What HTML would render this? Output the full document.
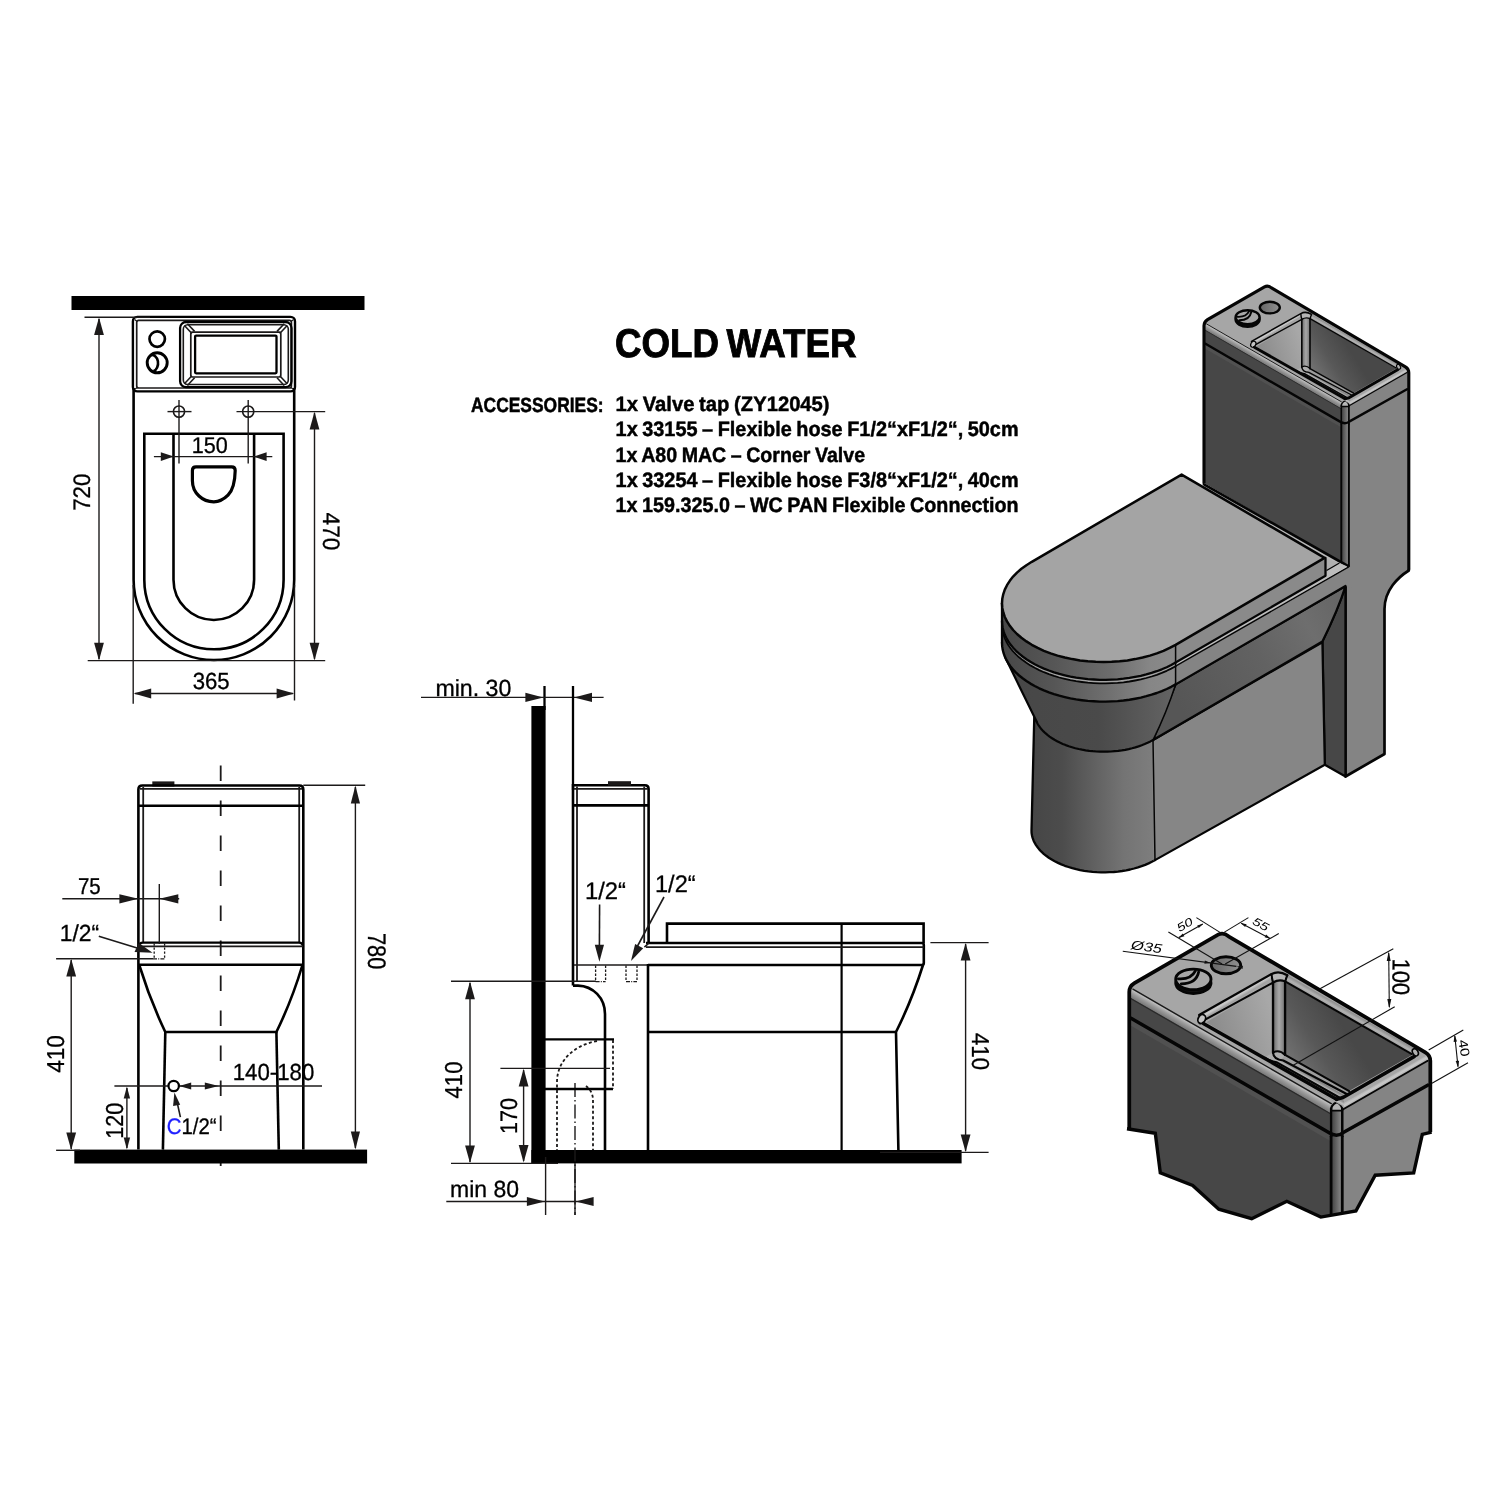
<!DOCTYPE html>
<html lang="en">
<head>
<meta charset="utf-8">
<title>COLD WATER - technical drawing</title>
<style>
html,body{margin:0;padding:0;background:#fff;}
body{width:1500px;height:1500px;overflow:hidden;font-family:"Liberation Sans",sans-serif;}
svg{display:block;will-change:transform;}
text{text-rendering:geometricPrecision;}
</style>
</head>
<body>
<svg width="1500" height="1500" viewBox="0 0 1500 1500">
<rect x="0" y="0" width="1500" height="1500" fill="#ffffff"/>
<text x="615.0" y="357.4" font-family='"Liberation Sans", sans-serif' font-size="40.20" font-weight="bold" fill="#000" text-anchor="start" textLength="241.5" lengthAdjust="spacingAndGlyphs" stroke="#000" stroke-width="0.9" word-spacing="-3">COLD WATER</text>
<text x="471.0" y="411.8" font-family='"Liberation Sans", sans-serif' font-size="20.55" font-weight="bold" fill="#000" text-anchor="start" textLength="132.6" lengthAdjust="spacingAndGlyphs" stroke="#000" stroke-width="0.5">ACCESSORIES:</text>
<text x="615.6" y="411.2" font-family='"Liberation Sans", sans-serif' font-size="20.85" font-weight="bold" fill="#000" text-anchor="start" textLength="214.0" lengthAdjust="spacingAndGlyphs" stroke="#000" stroke-width="0.45" word-spacing="-1.0">1x Valve tap (ZY12045)</text>
<text x="615.6" y="436.4" font-family='"Liberation Sans", sans-serif' font-size="20.85" font-weight="bold" fill="#000" text-anchor="start" textLength="403.0" lengthAdjust="spacingAndGlyphs" stroke="#000" stroke-width="0.45" word-spacing="-1.0">1x 33155 – Flexible hose F1/2“xF1/2“, 50cm</text>
<text x="615.6" y="461.6" font-family='"Liberation Sans", sans-serif' font-size="20.85" font-weight="bold" fill="#000" text-anchor="start" textLength="249.5" lengthAdjust="spacingAndGlyphs" stroke="#000" stroke-width="0.45" word-spacing="-1.0">1x A80 MAC – Corner Valve</text>
<text x="615.6" y="486.8" font-family='"Liberation Sans", sans-serif' font-size="20.85" font-weight="bold" fill="#000" text-anchor="start" textLength="403.0" lengthAdjust="spacingAndGlyphs" stroke="#000" stroke-width="0.45" word-spacing="-1.0">1x 33254 – Flexible hose F3/8“xF1/2“, 40cm</text>
<text x="615.6" y="512.0" font-family='"Liberation Sans", sans-serif' font-size="20.85" font-weight="bold" fill="#000" text-anchor="start" textLength="403.0" lengthAdjust="spacingAndGlyphs" stroke="#000" stroke-width="0.45" word-spacing="-1.0">1x 159.325.0 – WC PAN Flexible Connection</text>
<rect x="71.5" y="296.0" width="293.0" height="14.0" rx="0" fill="#000" stroke="none" stroke-width="0" />
<rect x="132.9" y="316.9" width="162.1" height="74.5" rx="4.5" fill="none" stroke="#000000" stroke-width="2.4" />
<rect x="136.7" y="320.4" width="154.7" height="67.6" rx="2" fill="none" stroke="#1c1a1a" stroke-width="1.7" />
<line x1="134.6" y1="319.4" x2="137.2" y2="321.4" stroke="#1c1a1a" stroke-width="1.2" />
<line x1="293.6" y1="319.4" x2="291.0" y2="321.4" stroke="#1c1a1a" stroke-width="1.2" />
<line x1="134.6" y1="389.4" x2="137.2" y2="387.4" stroke="#1c1a1a" stroke-width="1.2" />
<line x1="293.6" y1="389.4" x2="291.0" y2="387.4" stroke="#1c1a1a" stroke-width="1.2" />
<path d="M133.6,388 L133.6,579.7 A80.3,80.3 0 0 0 294.2,579.7 L294.2,388" stroke="#000000" stroke-width="2.6" fill="none" />
<path d="M144.3,433.8 L283.6,433.8 L283.6,579.7 A69.65,69.65 0 0 1 144.3,579.7 Z" stroke="#000000" stroke-width="2.6" fill="none" />
<path d="M173.5,433.8 L173.5,579.7 A40.3,40.3 0 0 0 254.1,579.7 L254.1,433.8" stroke="#000000" stroke-width="2.6" fill="none" />
<path d="M196,466.8 L231.6,466.8 Q235.2,466.8 235.2,470.4 C235,482 233,490 228,495.2 C223.6,499.6 219.6,501.8 213.8,501.8 C207.6,501.8 203,499.8 199,496 C194.6,492 192.4,486 192.4,480.8 L192.4,470.4 Q192.4,466.8 196,466.8 Z" stroke="#000000" stroke-width="3.2" fill="none" />
<circle cx="157.2" cy="339.1" r="7.7" stroke="#000000" stroke-width="2.7" fill="none"/>
<circle cx="157.2" cy="362.8" r="10.0" stroke="#000000" stroke-width="2.9" fill="none"/>
<path d="M150.6,355.2 A5.9,8 0 0 1 153.4,371.2" stroke="#000000" stroke-width="2.6" fill="none" />
<rect x="180.1" y="322.0" width="111.4" height="65.2" rx="6" fill="none" stroke="#000000" stroke-width="2.3" />
<rect x="183.3" y="324.7" width="105.0" height="59.8" rx="4.5" fill="none" stroke="#1c1a1a" stroke-width="1.6" />
<rect x="190.8" y="332.1" width="90.0" height="44.9" rx="1.5" fill="none" stroke="#1c1a1a" stroke-width="1.7" />
<rect x="195.1" y="335.6" width="81.4" height="37.7" rx="1" fill="none" stroke="#000000" stroke-width="2.3" />
<line x1="184.4" y1="325.5" x2="191.9" y2="333.5" stroke="#1c1a1a" stroke-width="1.6" />
<line x1="187.4" y1="323.7" x2="194.6" y2="331.4" stroke="#1c1a1a" stroke-width="1.6" />
<line x1="287.2" y1="325.5" x2="279.7" y2="333.5" stroke="#1c1a1a" stroke-width="1.6" />
<line x1="284.2" y1="323.7" x2="277.0" y2="331.4" stroke="#1c1a1a" stroke-width="1.6" />
<line x1="184.4" y1="383.7" x2="191.9" y2="375.7" stroke="#1c1a1a" stroke-width="1.6" />
<line x1="187.4" y1="385.5" x2="194.6" y2="377.8" stroke="#1c1a1a" stroke-width="1.6" />
<line x1="287.2" y1="383.7" x2="279.7" y2="375.7" stroke="#1c1a1a" stroke-width="1.6" />
<line x1="284.2" y1="385.5" x2="277.0" y2="377.8" stroke="#1c1a1a" stroke-width="1.6" />
<circle cx="179.0" cy="411.6" r="5.6" stroke="#1c1a1a" stroke-width="1.6" fill="none"/>
<line x1="179.0" y1="400.0" x2="179.0" y2="463.5" stroke="#1c1a1a" stroke-width="1.4" />
<circle cx="248.2" cy="411.6" r="5.6" stroke="#1c1a1a" stroke-width="1.6" fill="none"/>
<line x1="248.2" y1="400.0" x2="248.2" y2="463.5" stroke="#1c1a1a" stroke-width="1.4" />
<line x1="167.5" y1="411.6" x2="191.5" y2="411.6" stroke="#1c1a1a" stroke-width="1.4" />
<line x1="236.5" y1="411.6" x2="325.2" y2="411.6" stroke="#1c1a1a" stroke-width="1.4" />
<line x1="153.9" y1="456.6" x2="272.3" y2="456.6" stroke="#1c1a1a" stroke-width="1.4" />
<polygon points="173.8,456.6 160.8,461.0 160.8,452.2" fill="#1c1a1a" stroke="none" stroke-width="0" />
<polygon points="253.6,456.6 266.6,452.2 266.6,461.0" fill="#1c1a1a" stroke="none" stroke-width="0" />
<text x="191.8" y="453.0" font-family='"Liberation Sans", sans-serif' font-size="22.72" fill="#000" text-anchor="start" textLength="36.0" lengthAdjust="spacingAndGlyphs" stroke="#000" stroke-width="0.3">150</text>
<line x1="84.5" y1="317.3" x2="150.0" y2="317.3" stroke="#1c1a1a" stroke-width="1.4" />
<line x1="99.0" y1="319.0" x2="99.0" y2="659.0" stroke="#1c1a1a" stroke-width="1.4" />
<polygon points="99.0,317.5 103.9,335.1 94.1,335.1" fill="#1c1a1a" stroke="none" stroke-width="0" />
<polygon points="99.0,660.4 94.1,642.8 103.9,642.8" fill="#1c1a1a" stroke="none" stroke-width="0" />
<text x="0" y="0" transform="translate(89.9,510.8) rotate(-90)" font-family='"Liberation Sans", sans-serif' font-size="23.91" fill="#000" text-anchor="start" textLength="37.2" lengthAdjust="spacingAndGlyphs" stroke="#000" stroke-width="0.3">720</text>
<line x1="87.7" y1="660.6" x2="325.2" y2="660.6" stroke="#1c1a1a" stroke-width="1.4" />
<line x1="314.5" y1="413.0" x2="314.5" y2="659.0" stroke="#1c1a1a" stroke-width="1.4" />
<polygon points="314.5,411.8 319.4,429.4 309.6,429.4" fill="#1c1a1a" stroke="none" stroke-width="0" />
<polygon points="314.5,660.4 309.6,642.8 319.4,642.8" fill="#1c1a1a" stroke="none" stroke-width="0" />
<text x="0" y="0" transform="translate(322.6,512.6) rotate(90)" font-family='"Liberation Sans", sans-serif' font-size="23.91" fill="#000" text-anchor="start" textLength="37.8" lengthAdjust="spacingAndGlyphs" stroke="#000" stroke-width="0.3">470</text>
<line x1="133.2" y1="585.0" x2="133.2" y2="703.7" stroke="#1c1a1a" stroke-width="1.4" />
<line x1="294.5" y1="585.0" x2="294.5" y2="700.5" stroke="#1c1a1a" stroke-width="1.4" />
<line x1="135.0" y1="693.5" x2="293.0" y2="693.5" stroke="#1c1a1a" stroke-width="1.4" />
<polygon points="133.6,693.5 151.2,688.6 151.2,698.4" fill="#1c1a1a" stroke="none" stroke-width="0" />
<polygon points="294.2,693.5 276.6,698.4 276.6,688.6" fill="#1c1a1a" stroke="none" stroke-width="0" />
<text x="192.7" y="688.8" font-family='"Liberation Sans", sans-serif' font-size="23.31" fill="#000" text-anchor="start" textLength="37.0" lengthAdjust="spacingAndGlyphs" stroke="#000" stroke-width="0.3">365</text>
<line x1="220.7" y1="765.6" x2="220.7" y2="1169.5" stroke="#1c1a1a" stroke-width="1.8" stroke-dasharray="15.5 19.5"/>
<rect x="74.3" y="1149.6" width="292.8" height="13.9" rx="0" fill="#000" stroke="none" stroke-width="0" />
<rect x="152.3" y="781.4" width="22.1" height="5.1" rx="0" fill="#1c1a1a" stroke="none" stroke-width="0" />
<path d="M138.4,1149.6 L138.4,789.5 Q138.4,785.5 142.4,785.5 L299.3,785.5 Q303.3,785.5 303.3,789.5 L303.3,1149.6" stroke="#000000" stroke-width="2.6" fill="none" />
<line x1="143.2" y1="787.0" x2="143.2" y2="942.6" stroke="#1c1a1a" stroke-width="1.8" />
<line x1="299.2" y1="787.0" x2="299.2" y2="942.6" stroke="#1c1a1a" stroke-width="1.8" />
<line x1="140.0" y1="788.9" x2="302.0" y2="788.9" stroke="#1c1a1a" stroke-width="1.7" />
<line x1="138.4" y1="805.7" x2="303.3" y2="805.7" stroke="#000000" stroke-width="2.4" />
<path d="M138.8,946.3 Q139.2,942.6 143,942.6 L299,942.6 Q302.6,942.6 303,946.3" stroke="#000000" stroke-width="2.4" fill="none" />
<line x1="139.0" y1="946.4" x2="303.0" y2="946.4" stroke="#1c1a1a" stroke-width="1.8" />
<line x1="138.4" y1="964.8" x2="303.3" y2="964.8" stroke="#000000" stroke-width="2.6" />
<path d="M139.4,965.5 Q150,1000 165.3,1032 L276.4,1032 Q292,1000 302.3,965.5" stroke="#000000" stroke-width="2.6" fill="none" />
<path d="M165.3,1032 L162.9,1149.6" stroke="#000000" stroke-width="2.6" fill="none" />
<path d="M276.4,1032 L278.8,1149.6" stroke="#000000" stroke-width="2.6" fill="none" />
<line x1="114.4" y1="1086.0" x2="322.0" y2="1086.0" stroke="#1c1a1a" stroke-width="1.4" />
<circle cx="173.7" cy="1086.0" r="5.2" stroke="#000000" stroke-width="2.2" fill="#fff"/>
<polygon points="179.2,1086.0 191.2,1082.6 191.2,1089.4" fill="#1c1a1a" stroke="none" stroke-width="0" />
<polygon points="218.8,1086.0 204.8,1089.6 204.8,1082.4" fill="#1c1a1a" stroke="none" stroke-width="0" />
<line x1="180.4" y1="1117.2" x2="176.6" y2="1100.0" stroke="#1c1a1a" stroke-width="1.6" />
<polygon points="174.4,1092.6 180.2,1104.8 173.1,1106.0" fill="#1c1a1a" stroke="none" stroke-width="0" />
<text x="166.7" y="1133.6" font-family='"Liberation Sans", sans-serif' font-size="22.42" fill="#000" text-anchor="start" textLength="49.8" lengthAdjust="spacingAndGlyphs" stroke="#000" stroke-width="0.3"><tspan fill="#1f1fff" stroke="#1f1fff">C</tspan>1/2“</text>
<text x="232.7" y="1080.2" font-family='"Liberation Sans", sans-serif' font-size="23.31" fill="#000" text-anchor="start" textLength="81.6" lengthAdjust="spacingAndGlyphs" stroke="#000" stroke-width="0.3">140-180</text>
<line x1="126.9" y1="1088.0" x2="126.9" y2="1148.0" stroke="#1c1a1a" stroke-width="1.4" />
<polygon points="126.9,1086.4 130.1,1098.4 123.7,1098.4" fill="#1c1a1a" stroke="none" stroke-width="0" />
<polygon points="126.9,1149.6 123.7,1137.6 130.1,1137.6" fill="#1c1a1a" stroke="none" stroke-width="0" />
<text x="0" y="0" transform="translate(122.8,1138.8) rotate(-90)" font-family='"Liberation Sans", sans-serif' font-size="24.51" fill="#000" text-anchor="start" textLength="36.0" lengthAdjust="spacingAndGlyphs" stroke="#000" stroke-width="0.3">120</text>
<line x1="56.1" y1="958.8" x2="153.0" y2="958.8" stroke="#1c1a1a" stroke-width="1.4" />
<line x1="56.1" y1="1150.3" x2="80.0" y2="1150.3" stroke="#1c1a1a" stroke-width="1.4" />
<line x1="71.2" y1="960.0" x2="71.2" y2="1149.0" stroke="#1c1a1a" stroke-width="1.4" />
<polygon points="71.2,959.0 76.1,976.6 66.3,976.6" fill="#1c1a1a" stroke="none" stroke-width="0" />
<polygon points="71.2,1150.0 66.3,1132.4 76.1,1132.4" fill="#1c1a1a" stroke="none" stroke-width="0" />
<text x="0" y="0" transform="translate(64.0,1072.8) rotate(-90)" font-family='"Liberation Sans", sans-serif' font-size="24.51" fill="#000" text-anchor="start" textLength="37.7" lengthAdjust="spacingAndGlyphs" stroke="#000" stroke-width="0.3">410</text>
<line x1="62.3" y1="898.8" x2="179.2" y2="898.8" stroke="#1c1a1a" stroke-width="1.4" />
<polygon points="138.4,898.8 119.4,903.4 119.4,894.2" fill="#1c1a1a" stroke="none" stroke-width="0" />
<polygon points="159.3,898.8 178.3,894.2 178.3,903.4" fill="#1c1a1a" stroke="none" stroke-width="0" />
<line x1="159.3" y1="883.9" x2="159.3" y2="944.0" stroke="#1c1a1a" stroke-width="1.4" />
<text x="77.9" y="894.0" font-family='"Liberation Sans", sans-serif' font-size="23.01" fill="#000" text-anchor="start" textLength="22.8" lengthAdjust="spacingAndGlyphs" stroke="#000" stroke-width="0.3">75</text>
<text x="59.7" y="941.4" font-family='"Liberation Sans", sans-serif' font-size="23.31" fill="#000" text-anchor="start" textLength="39.4" lengthAdjust="spacingAndGlyphs" stroke="#000" stroke-width="0.3">1/2“</text>
<line x1="98.8" y1="936.2" x2="142.0" y2="949.5" stroke="#1c1a1a" stroke-width="1.6" />
<polygon points="152.6,952.8 134.5,952.0 138.8,943.0" fill="#1c1a1a" stroke="none" stroke-width="0" />
<path d="M154.2,943.4 L154.2,958.8 M164.6,943.4 L164.6,958.8" stroke="#1c1a1a" stroke-width="1.3" fill="none" stroke-dasharray="2.4 1.6"/>
<path d="M153,958.8 L165,958.8" stroke="#1c1a1a" stroke-width="1.3" fill="none" stroke-dasharray="4 1.2 1 1.2"/>
<line x1="303.3" y1="785.3" x2="365.2" y2="785.3" stroke="#1c1a1a" stroke-width="1.4" />
<line x1="355.4" y1="787.0" x2="355.4" y2="1148.0" stroke="#1c1a1a" stroke-width="1.4" />
<polygon points="355.4,785.5 360.0,803.5 350.8,803.5" fill="#1c1a1a" stroke="none" stroke-width="0" />
<polygon points="355.4,1149.6 350.8,1131.6 360.0,1131.6" fill="#1c1a1a" stroke="none" stroke-width="0" />
<text x="0" y="0" transform="translate(368.3,932.9) rotate(90)" font-family='"Liberation Sans", sans-serif' font-size="25.41" fill="#000" text-anchor="start" textLength="36.4" lengthAdjust="spacingAndGlyphs" stroke="#000" stroke-width="0.3">780</text>
<rect x="531.4" y="706.0" width="14.2" height="457.4" rx="0" fill="#000" stroke="none" stroke-width="0" />
<rect x="531.4" y="1150.0" width="430.2" height="13.4" rx="0" fill="#000" stroke="none" stroke-width="0" />
<line x1="544.5" y1="686.0" x2="544.5" y2="710.0" stroke="#000000" stroke-width="2.3" />
<line x1="545.6" y1="1157.0" x2="545.6" y2="1215.0" stroke="#1c1a1a" stroke-width="1.4" />
<line x1="575.0" y1="1083.0" x2="575.0" y2="1215.0" stroke="#1c1a1a" stroke-width="1.4" stroke-dasharray="14 3 1.5 3"/>
<line x1="575.0" y1="1163.0" x2="575.0" y2="1215.0" stroke="#1c1a1a" stroke-width="1.4" />
<line x1="421.0" y1="697.4" x2="603.6" y2="697.4" stroke="#1c1a1a" stroke-width="1.4" />
<polygon points="543.4,697.4 525.4,702.0 525.4,692.8" fill="#1c1a1a" stroke="none" stroke-width="0" />
<polygon points="574.0,697.4 592.0,692.8 592.0,702.0" fill="#1c1a1a" stroke="none" stroke-width="0" />
<line x1="573.0" y1="686.0" x2="573.0" y2="790.0" stroke="#000000" stroke-width="2.3" />
<text x="435.4" y="695.6" font-family='"Liberation Sans", sans-serif' font-size="23.31" fill="#000" text-anchor="start" textLength="76.0" lengthAdjust="spacingAndGlyphs" stroke="#000" stroke-width="0.3">min. 30</text>
<path d="M573,985.6 L573,785.2 L644.8,785.2 Q648.6,785.2 648.6,789 L648.6,943" stroke="#000000" stroke-width="2.6" fill="none" />
<line x1="577.0" y1="786.5" x2="577.0" y2="981.6" stroke="#1c1a1a" stroke-width="1.8" />
<line x1="644.2" y1="786.5" x2="644.2" y2="943.0" stroke="#1c1a1a" stroke-width="1.8" />
<line x1="574.0" y1="788.8" x2="648.0" y2="788.8" stroke="#1c1a1a" stroke-width="1.7" />
<line x1="573.0" y1="805.4" x2="648.6" y2="805.4" stroke="#000000" stroke-width="2.6" />
<rect x="608.0" y="781.2" width="23.0" height="4.4" rx="0" fill="#1c1a1a" stroke="none" stroke-width="0" />
<path d="M573,985.6 L578,985.6 C593,986 605,998 605,1014 L605,1150" stroke="#000000" stroke-width="2.6" fill="none" />
<line x1="574.0" y1="965.0" x2="648.0" y2="965.0" stroke="#1c1a1a" stroke-width="1.4" />
<line x1="648.0" y1="964.0" x2="648.0" y2="1150.0" stroke="#000000" stroke-width="2.6" />
<line x1="648.0" y1="965.0" x2="923.0" y2="965.0" stroke="#000000" stroke-width="2.6" />
<line x1="648.0" y1="1032.0" x2="896.0" y2="1032.0" stroke="#000000" stroke-width="2.6" />
<line x1="841.6" y1="923.6" x2="841.6" y2="1150.0" stroke="#000000" stroke-width="2.2" />
<path d="M923,965 Q912,1000 896,1032 L898.4,1150" stroke="#000000" stroke-width="2.6" fill="none" />
<path d="M646,943 L922,943 Q923.8,943 923.8,945 L923.8,963 Q923.8,965 922,965" stroke="#000000" stroke-width="2.6" fill="none" />
<line x1="646.0" y1="947.2" x2="923.6" y2="947.2" stroke="#1c1a1a" stroke-width="1.7" />
<line x1="649.0" y1="943.0" x2="644.4" y2="947.2" stroke="#1c1a1a" stroke-width="1.6" />
<path d="M667,943 L667,923.6 L923.6,923.6 L923.6,943" stroke="#000000" stroke-width="2.6" fill="none" />
<line x1="545.0" y1="1039.4" x2="614.0" y2="1039.4" stroke="#000000" stroke-width="2.4" />
<line x1="545.0" y1="1089.0" x2="613.0" y2="1089.0" stroke="#000000" stroke-width="2.4" />
<line x1="613.0" y1="1040.0" x2="613.0" y2="1089.0" stroke="#1c1a1a" stroke-width="1.8" stroke-dasharray="3 2.4"/>
<path d="M597,1041 C575,1045 557,1060 557,1082 L557,1150" stroke="#1c1a1a" stroke-width="1.8" fill="none" stroke-dasharray="3 2.4"/>
<path d="M586,1086 C590,1089 593,1094 593,1100 L593,1150" stroke="#1c1a1a" stroke-width="1.8" fill="none" stroke-dasharray="3 2.4"/>
<path d="M595.6,965.6 L595.6,981.6 M605.6,965.6 L605.6,981.6" stroke="#1c1a1a" stroke-width="1.3" fill="none" stroke-dasharray="2.4 1.6"/>
<path d="M595.6,981.6 L605.6,981.6" stroke="#1c1a1a" stroke-width="1.3" fill="none" stroke-dasharray="4 1.2 1 1.2"/>
<path d="M626.0,965.6 L626.0,981.6 M637.0,965.6 L637.0,981.6" stroke="#1c1a1a" stroke-width="1.3" fill="none" stroke-dasharray="2.4 1.6"/>
<path d="M626.0,981.6 L637.0,981.6" stroke="#1c1a1a" stroke-width="1.3" fill="none" stroke-dasharray="4 1.2 1 1.2"/>
<text x="585.0" y="899.0" font-family='"Liberation Sans", sans-serif' font-size="23.91" fill="#000" text-anchor="start" textLength="41.0" lengthAdjust="spacingAndGlyphs" stroke="#000" stroke-width="0.3">1/2“</text>
<line x1="599.6" y1="904.4" x2="599.4" y2="946.0" stroke="#1c1a1a" stroke-width="1.6" />
<polygon points="599.4,961.8 594.8,944.8 604.0,944.8" fill="#1c1a1a" stroke="none" stroke-width="0" />
<text x="655.0" y="892.0" font-family='"Liberation Sans", sans-serif' font-size="23.91" fill="#000" text-anchor="start" textLength="40.6" lengthAdjust="spacingAndGlyphs" stroke="#000" stroke-width="0.3">1/2“</text>
<line x1="664.0" y1="897.0" x2="637.0" y2="947.0" stroke="#1c1a1a" stroke-width="1.6" />
<polygon points="631.0,961.0 635.1,943.9 643.2,948.3" fill="#1c1a1a" stroke="none" stroke-width="0" />
<line x1="451.0" y1="981.2" x2="596.0" y2="981.2" stroke="#1c1a1a" stroke-width="1.4" />
<line x1="451.0" y1="1163.4" x2="558.0" y2="1163.4" stroke="#1c1a1a" stroke-width="1.4" />
<line x1="470.0" y1="983.0" x2="470.0" y2="1162.0" stroke="#1c1a1a" stroke-width="1.4" />
<polygon points="470.0,981.6 474.9,999.2 465.1,999.2" fill="#1c1a1a" stroke="none" stroke-width="0" />
<polygon points="470.0,1163.0 465.1,1145.4 474.9,1145.4" fill="#1c1a1a" stroke="none" stroke-width="0" />
<text x="0" y="0" transform="translate(462.4,1098.4) rotate(-90)" font-family='"Liberation Sans", sans-serif' font-size="24.51" fill="#000" text-anchor="start" textLength="36.8" lengthAdjust="spacingAndGlyphs" stroke="#000" stroke-width="0.3">410</text>
<line x1="500.4" y1="1068.4" x2="610.0" y2="1068.4" stroke="#1c1a1a" stroke-width="1.4" />
<line x1="523.6" y1="1070.0" x2="523.6" y2="1161.0" stroke="#1c1a1a" stroke-width="1.4" />
<polygon points="523.6,1068.8 528.5,1086.4 518.7,1086.4" fill="#1c1a1a" stroke="none" stroke-width="0" />
<polygon points="523.6,1162.6 518.7,1145.0 528.5,1145.0" fill="#1c1a1a" stroke="none" stroke-width="0" />
<text x="0" y="0" transform="translate(517.0,1134.0) rotate(-90)" font-family='"Liberation Sans", sans-serif' font-size="23.91" fill="#000" text-anchor="start" textLength="36.0" lengthAdjust="spacingAndGlyphs" stroke="#000" stroke-width="0.3">170</text>
<line x1="446.3" y1="1201.5" x2="593.0" y2="1201.5" stroke="#1c1a1a" stroke-width="1.4" />
<polygon points="544.9,1201.5 526.9,1206.1 526.9,1196.9" fill="#1c1a1a" stroke="none" stroke-width="0" />
<polygon points="575.6,1201.5 593.6,1196.9 593.6,1206.1" fill="#1c1a1a" stroke="none" stroke-width="0" />
<text x="450.0" y="1197.4" font-family='"Liberation Sans", sans-serif' font-size="23.31" fill="#000" text-anchor="start" textLength="69.0" lengthAdjust="spacingAndGlyphs" stroke="#000" stroke-width="0.3">min 80</text>
<line x1="930.4" y1="942.6" x2="988.6" y2="942.6" stroke="#1c1a1a" stroke-width="1.4" />
<line x1="880.0" y1="1152.4" x2="988.6" y2="1152.4" stroke="#1c1a1a" stroke-width="1.4" />
<line x1="965.6" y1="944.0" x2="965.6" y2="1151.0" stroke="#1c1a1a" stroke-width="1.4" />
<polygon points="965.6,943.0 970.5,960.6 960.7,960.6" fill="#1c1a1a" stroke="none" stroke-width="0" />
<polygon points="965.6,1152.0 960.7,1134.4 970.5,1134.4" fill="#1c1a1a" stroke="none" stroke-width="0" />
<text x="0" y="0" transform="translate(972.0,1033.0) rotate(90)" font-family='"Liberation Sans", sans-serif' font-size="24.51" fill="#000" text-anchor="start" textLength="37.0" lengthAdjust="spacingAndGlyphs" stroke="#000" stroke-width="0.3">410</text>
<defs>
<linearGradient id="gCyl" x1="0" y1="0" x2="1" y2="0"><stop offset="0" stop-color="#464646"/><stop offset="0.25" stop-color="#4c4c4c"/><stop offset="0.75" stop-color="#747474"/><stop offset="1" stop-color="#7e7e7e"/></linearGradient>
<linearGradient id="gTaper" x1="0" y1="0" x2="1" y2="0"><stop offset="0" stop-color="#474747"/><stop offset="0.55" stop-color="#4a4a4a"/><stop offset="1" stop-color="#646464"/></linearGradient>
<linearGradient id="gRim" x1="0" y1="0" x2="1" y2="0"><stop offset="0" stop-color="#484848"/><stop offset="0.3" stop-color="#565656"/><stop offset="0.62" stop-color="#707070"/><stop offset="0.85" stop-color="#868686"/><stop offset="1" stop-color="#8a8a8a"/></linearGradient>
<linearGradient id="gLidE" x1="0" y1="0" x2="1" y2="0"><stop offset="0" stop-color="#484848"/><stop offset="0.3" stop-color="#565656"/><stop offset="0.62" stop-color="#6c6c6c"/><stop offset="0.85" stop-color="#868686"/><stop offset="1" stop-color="#8a8a8a"/></linearGradient>
<linearGradient id="gSide" gradientUnits="userSpaceOnUse" x1="1176" y1="700" x2="1340" y2="606"><stop offset="0" stop-color="#565656"/><stop offset="0.5" stop-color="#626262"/><stop offset="0.8" stop-color="#6e6e6e"/><stop offset="1" stop-color="#666666"/></linearGradient>
<linearGradient id="gCorner" x1="0" y1="0" x2="1" y2="0"><stop offset="0" stop-color="#484848"/><stop offset="0.25" stop-color="#505050"/><stop offset="0.8" stop-color="#808080"/><stop offset="1" stop-color="#848484"/></linearGradient>
<linearGradient id="gBasL" gradientUnits="userSpaceOnUse" x1="1262" y1="352" x2="1301" y2="338"><stop offset="0" stop-color="#8c8c8c"/><stop offset="1" stop-color="#a8a8a8"/></linearGradient>
<linearGradient id="gBasR" gradientUnits="userSpaceOnUse" x1="1312" y1="374" x2="1350" y2="350"><stop offset="0" stop-color="#747474"/><stop offset="0.5" stop-color="#585858"/><stop offset="1" stop-color="#484848"/></linearGradient>
<linearGradient id="gFil" x1="0" y1="0" x2="1" y2="0"><stop offset="0" stop-color="#6a6a6a"/><stop offset="0.5" stop-color="#a8a8a8"/><stop offset="1" stop-color="#747474"/></linearGradient>
<linearGradient id="gHole" x1="0" y1="0" x2="1" y2="0"><stop offset="0" stop-color="#666666"/><stop offset="1" stop-color="#909090"/></linearGradient>
</defs>
<defs>
<linearGradient id="gFrontFil" gradientUnits="userSpaceOnUse" x1="0" y1="0" x2="0" y2="7"><stop offset="0" stop-color="#c6c6c6"/><stop offset="0.45" stop-color="#9a9a9a"/><stop offset="0.9" stop-color="#7a7a7a"/><stop offset="1" stop-color="#555555"/></linearGradient>
<linearGradient id="gRightFil" gradientUnits="userSpaceOnUse" x1="0" y1="0" x2="0" y2="3.6"><stop offset="0" stop-color="#b4b4b4"/><stop offset="0.5" stop-color="#cacaca"/><stop offset="1" stop-color="#a8a8a8"/></linearGradient>
<linearGradient id="gBackRim" gradientUnits="userSpaceOnUse" x1="0" y1="0" x2="0" y2="6"><stop offset="0" stop-color="#8c8c8c"/><stop offset="0.45" stop-color="#b2b2b2"/><stop offset="1" stop-color="#929292"/></linearGradient>
<linearGradient id="gLeftRim" gradientUnits="userSpaceOnUse" x1="0" y1="0" x2="0" y2="5"><stop offset="0" stop-color="#a8a8a8"/><stop offset="0.5" stop-color="#cccccc"/><stop offset="1" stop-color="#9c9c9c"/></linearGradient>
<linearGradient id="gFloorFil" gradientUnits="userSpaceOnUse" x1="0" y1="0" x2="0" y2="8"><stop offset="0" stop-color="#7a7a7a"/><stop offset="0.3" stop-color="#b4b4b4"/><stop offset="0.55" stop-color="#8a8a8a"/><stop offset="0.8" stop-color="#c0c0c0"/><stop offset="1" stop-color="#9a9a9a"/></linearGradient>
</defs>
<defs><g id="tank" stroke-linecap="round" stroke-linejoin="round">
<polygon points="1347.0,404.0 1408.8,369.0 1408.8,569.0 1347.0,569.0" fill="#848484" stroke="none" stroke-width="0" />
<polygon points="1204.0,323.0 1342.0,403.0 1342.0,562.6 1204.0,483.0" fill="#474747" stroke="none" stroke-width="0" />
<g transform="translate(1204,322.6) skewY(30)"><rect x="0" y="0" width="138" height="7" fill="url(#gFrontFil)"/><rect x="0" y="21" width="138" height="4.5" fill="#515151"/></g>
<rect x="1341" y="403" width="8.2" height="164" fill="url(#gCorner)"/>
<line x1="1348.9" y1="424.0" x2="1348.9" y2="566.5" stroke="#050505" stroke-width="1.9" />
<line x1="1341.3" y1="424.0" x2="1341.3" y2="562.5" stroke="#050505" stroke-width="1.9" />
<polygon points="1204.0,322.5 1268.0,286.0 1408.8,368.8 1345.4,404.2" fill="#a6a6a6" stroke="none" stroke-width="0" />
<g transform="translate(1348.6,402.2) skewY(-30)"><rect x="0" y="0" width="60" height="3.6" fill="url(#gRightFil)"/></g>
<line x1="1349.6" y1="405.6" x2="1407.0" y2="372.6" stroke="#050505" stroke-width="1.2" />
<line x1="1206.5" y1="323.9" x2="1341.4" y2="401.8" stroke="#1a1a1a" stroke-width="1.0" />
<line x1="1205.0" y1="330.2" x2="1341.2" y2="408.8" stroke="#2a2a2a" stroke-width="0.9" />
<path d="M1205.5,343.8 L1340,421.6 Q1345.2,425 1349.6,421.4 L1407,389.2" stroke="#050505" stroke-width="2.4" fill="none" />
<path d="M1341.3,406.5 Q1341.2,402.4 1345.2,400.8 Q1349,402.4 1348.9,406.5 Z" stroke="#050505" stroke-width="1.3" fill="#b6b6b6" />
<line x1="1341.3" y1="405.0" x2="1341.3" y2="424.0" stroke="#050505" stroke-width="1.6" />
<line x1="1348.9" y1="405.0" x2="1348.9" y2="424.0" stroke="#050505" stroke-width="1.7" />
<g transform="translate(1310,313.4) skewY(30)"><rect x="0" y="0" width="89" height="5.4" fill="url(#gBackRim)"/></g>
<g transform="translate(1251.5,341.2) skewY(-30.6)"><rect x="0" y="0" width="50" height="5" fill="url(#gLeftRim)"/></g>
<path d="M1300.8,313.6 Q1305.6,310.6 1311.5,314.4 L1310,318.8 Q1305.8,316.4 1301.6,319.2 Z" fill="#b4b4b4"/>
<polygon points="1256.4,346.4 1301.8,319.6 1301.8,367.2 1296.0,370.6" fill="url(#gBasL)" stroke="none" stroke-width="0" />
<polygon points="1310.0,319.0 1396.4,368.6 1353.5,393.2 1310.0,368.8" fill="url(#gBasR)" stroke="none" stroke-width="0" />
<rect x="1301.8" y="318" width="8.2" height="50" fill="url(#gFil)"/>
<polygon points="1296.0,370.6 1301.8,367.2 1310.0,368.8 1353.5,393.2 1346.0,398.0" fill="#9c9c9c" stroke="none" stroke-width="0" />
<g transform="translate(1298,366) skewY(30)"><rect x="0" y="0" width="52" height="8" fill="url(#gFloorFil)"/></g>
<polygon points="1296.0,370.6 1301.8,367.2 1301.8,361.0 1294.0,365.0" fill="url(#gBasL)" stroke="none" stroke-width="0" />
<path d="M1296,370.4 L1301.8,367 Q1306,364.8 1310,368.6 Q1307,372.6 1303,373.6 Z" fill="#adadad"/>
<path d="M1251.5,341.4 L1300.8,313.6 Q1305.6,310.8 1311.5,314.4" stroke="#050505" stroke-width="1.5" fill="none" />
<path d="M1255.6,344.6 L1301.8,319.4 Q1305.8,316.8 1310,318.6 L1396.2,368" stroke="#050505" stroke-width="1.4" fill="none" />
<path d="M1301.8,319.4 L1301.8,367 M1310,319 L1310,368.6" stroke="#050505" stroke-width="1.6" fill="none" />
<path d="M1300.8,313.6 Q1301,316.6 1301.8,319.4 M1311.5,314.4 Q1310.6,316.6 1310,319" stroke="#050505" stroke-width="1.4" fill="none" />
<path d="M1301.8,367 Q1306,364.6 1310,368.6" stroke="#050505" stroke-width="1.4" fill="none" />
<path d="M1301.8,367 Q1302,371.8 1308.8,372.4 L1351.6,395" stroke="#050505" stroke-width="1.4" fill="none" />
<path d="M1296.4,370.6 Q1300,373 1304.4,373.6 L1346.6,397.4" stroke="#050505" stroke-width="1.4" fill="none" />
<path d="M1310,368.6 L1353.6,393.2" stroke="#050505" stroke-width="1.4" fill="none" />
<ellipse cx="1253.3" cy="344.2" rx="2.4" ry="3.2" transform="rotate(30 1253.3 344.2)" fill="#c4c4c4" stroke="#050505" stroke-width="1.2"/>
<path d="M1254.4,347.2 L1345,398.8" stroke="#050505" stroke-width="2.9" fill="none" />
<path d="M1345,398.8 L1349.4,397.6 L1398,369.6" stroke="#050505" stroke-width="2.9" fill="none" />
<ellipse cx="1398.6" cy="366.8" rx="1.8" ry="2.6" transform="rotate(-30 1398.6 366.8)" fill="#b0b0b0" stroke="#050505" stroke-width="1.1"/>
<ellipse cx="1269.8" cy="307.6" rx="10" ry="5.8" fill="url(#gHole)" stroke="#050505" stroke-width="2.40"/>
<ellipse cx="1247.6" cy="319.6" rx="12" ry="7.2" fill="#111" stroke="#050505" stroke-width="2.40"/>
<ellipse cx="1247.6" cy="317.2" rx="12" ry="7.0" fill="#a8a8a8" stroke="#050505" stroke-width="2.40"/>
<path d="M1237.4,316.8 Q1246,317.4 1249,311.4" stroke="#050505" stroke-width="1.9" fill="none" />
<path d="M1239.4,320.2 Q1249.6,320.2 1251.2,312.2" stroke="#050505" stroke-width="1.9" fill="none" />
<path d="M1204,483 L1204,325.8 Q1204,321.8 1207.5,319.7 L1264.5,286.8 Q1268,285 1271.5,287.9 L1405.4,366.9 Q1408.8,368.9 1408.8,372.8 L1408.8,569" stroke="#050505" stroke-width="3.1" fill="none" />
</g></defs>
<defs><g id="tankD" stroke-linecap="round" stroke-linejoin="round">
<polygon points="1347.0,404.0 1408.8,369.0 1408.8,569.0 1347.0,569.0" fill="#848484" stroke="none" stroke-width="0" />
<polygon points="1204.0,323.0 1342.0,403.0 1342.0,562.6 1204.0,483.0" fill="#474747" stroke="none" stroke-width="0" />
<g transform="translate(1204,322.6) skewY(30)"><rect x="0" y="0" width="138" height="7" fill="url(#gFrontFil)"/><rect x="0" y="21" width="138" height="4.5" fill="#515151"/></g>
<rect x="1341" y="403" width="8.2" height="164" fill="url(#gCorner)"/>
<line x1="1348.9" y1="424.0" x2="1348.9" y2="566.5" stroke="#050505" stroke-width="1.9" />
<line x1="1341.3" y1="424.0" x2="1341.3" y2="562.5" stroke="#050505" stroke-width="1.9" />
<polygon points="1204.0,322.5 1268.0,286.0 1408.8,368.8 1345.4,404.2" fill="#a6a6a6" stroke="none" stroke-width="0" />
<g transform="translate(1348.6,402.2) skewY(-30)"><rect x="0" y="0" width="60" height="3.6" fill="url(#gRightFil)"/></g>
<line x1="1349.6" y1="405.6" x2="1407.0" y2="372.6" stroke="#050505" stroke-width="1.2" />
<line x1="1206.5" y1="323.9" x2="1341.4" y2="401.8" stroke="#1a1a1a" stroke-width="1.0" />
<line x1="1205.0" y1="330.2" x2="1341.2" y2="408.8" stroke="#2a2a2a" stroke-width="0.9" />
<path d="M1205.5,343.8 L1340,421.6 Q1345.2,425 1349.6,421.4 L1407,389.2" stroke="#050505" stroke-width="2.4" fill="none" />
<path d="M1341.3,406.5 Q1341.2,402.4 1345.2,400.8 Q1349,402.4 1348.9,406.5 Z" stroke="#050505" stroke-width="1.3" fill="#b6b6b6" />
<line x1="1341.3" y1="405.0" x2="1341.3" y2="424.0" stroke="#050505" stroke-width="1.6" />
<line x1="1348.9" y1="405.0" x2="1348.9" y2="424.0" stroke="#050505" stroke-width="1.7" />
<g transform="translate(1310,313.4) skewY(30)"><rect x="0" y="0" width="89" height="5.4" fill="url(#gBackRim)"/></g>
<g transform="translate(1251.5,341.2) skewY(-30.6)"><rect x="0" y="0" width="50" height="5" fill="url(#gLeftRim)"/></g>
<path d="M1300.8,313.6 Q1305.6,310.6 1311.5,314.4 L1310,318.8 Q1305.8,316.4 1301.6,319.2 Z" fill="#b4b4b4"/>
<polygon points="1256.4,346.4 1301.8,319.6 1301.8,367.2 1296.0,370.6" fill="url(#gBasL)" stroke="none" stroke-width="0" />
<polygon points="1310.0,319.0 1396.4,368.6 1353.5,393.2 1310.0,368.8" fill="url(#gBasR)" stroke="none" stroke-width="0" />
<rect x="1301.8" y="318" width="8.2" height="50" fill="url(#gFil)"/>
<polygon points="1296.0,370.6 1301.8,367.2 1310.0,368.8 1353.5,393.2 1346.0,398.0" fill="#9c9c9c" stroke="none" stroke-width="0" />
<g transform="translate(1298,366) skewY(30)"><rect x="0" y="0" width="52" height="8" fill="url(#gFloorFil)"/></g>
<polygon points="1296.0,370.6 1301.8,367.2 1301.8,361.0 1294.0,365.0" fill="url(#gBasL)" stroke="none" stroke-width="0" />
<path d="M1296,370.4 L1301.8,367 Q1306,364.8 1310,368.6 Q1307,372.6 1303,373.6 Z" fill="#adadad"/>
<path d="M1251.5,341.4 L1300.8,313.6 Q1305.6,310.8 1311.5,314.4" stroke="#050505" stroke-width="1.5" fill="none" />
<path d="M1255.6,344.6 L1301.8,319.4 Q1305.8,316.8 1310,318.6 L1396.2,368" stroke="#050505" stroke-width="1.4" fill="none" />
<path d="M1301.8,319.4 L1301.8,367 M1310,319 L1310,368.6" stroke="#050505" stroke-width="1.6" fill="none" />
<path d="M1300.8,313.6 Q1301,316.6 1301.8,319.4 M1311.5,314.4 Q1310.6,316.6 1310,319" stroke="#050505" stroke-width="1.4" fill="none" />
<path d="M1301.8,367 Q1306,364.6 1310,368.6" stroke="#050505" stroke-width="1.4" fill="none" />
<path d="M1301.8,367 Q1302,371.8 1308.8,372.4 L1351.6,395" stroke="#050505" stroke-width="1.4" fill="none" />
<path d="M1296.4,370.6 Q1300,373 1304.4,373.6 L1346.6,397.4" stroke="#050505" stroke-width="1.4" fill="none" />
<path d="M1310,368.6 L1353.6,393.2" stroke="#050505" stroke-width="1.4" fill="none" />
<ellipse cx="1253.3" cy="344.2" rx="2.4" ry="3.2" transform="rotate(30 1253.3 344.2)" fill="#c4c4c4" stroke="#050505" stroke-width="1.2"/>
<path d="M1254.4,347.2 L1345,398.8" stroke="#050505" stroke-width="2.4" fill="none" />
<path d="M1345,398.8 L1349.4,397.6 L1398,369.6" stroke="#050505" stroke-width="2.4" fill="none" />
<ellipse cx="1398.6" cy="366.8" rx="1.8" ry="2.6" transform="rotate(-30 1398.6 366.8)" fill="#b0b0b0" stroke="#050505" stroke-width="1.1"/>
<ellipse cx="1269.8" cy="307.6" rx="10" ry="5.8" fill="url(#gHole)" stroke="#050505" stroke-width="1.97"/>
<ellipse cx="1247.6" cy="319.6" rx="12" ry="7.2" fill="#111" stroke="#050505" stroke-width="1.97"/>
<ellipse cx="1247.6" cy="317.2" rx="12" ry="7.0" fill="#a8a8a8" stroke="#050505" stroke-width="1.97"/>
<path d="M1237.4,316.8 Q1246,317.4 1249,311.4" stroke="#050505" stroke-width="1.9" fill="none" />
<path d="M1239.4,320.2 Q1249.6,320.2 1251.2,312.2" stroke="#050505" stroke-width="1.9" fill="none" />
<path d="M1204,483 L1204,325.8 Q1204,321.8 1207.5,319.7 L1264.5,286.8 Q1268,285 1271.5,287.9 L1405.4,366.9 Q1408.8,368.9 1408.8,372.8 L1408.8,569" stroke="#050505" stroke-width="2.56" fill="none" />
</g></defs>
<g id="iso" stroke-linecap="round">
<path d="M1349,404 L1408.8,369 L1408.8,570.5 C1398.4,577 1384.5,590 1384.5,609 L1384.5,754 L1345.5,776.5 L1345.5,586 L1349,567 Z" fill="#848484" stroke="none"/>
<path d="M1408.8,569 L1408.8,570.5 C1398.4,577 1384.5,590 1384.5,609 L1384.5,754 L1345.5,776.5 L1345.5,586" fill="none" stroke="#050505" stroke-width="2.7" stroke-linejoin="round"/>
<path d="M1345.5,586 C1340.5,602 1331,624 1322.4,641.5 L1324.8,764.8 L1345.5,776.5 Z" fill="#474747" stroke="#050505" stroke-width="2.3" stroke-linejoin="round"/>
<use href="#tank"/>
<polygon points="1204.0,483.0 1346.0,565.4 1338.0,570.0 1320.0,580.0 1204.0,500.0" fill="#b8b8b8" stroke="none" stroke-width="0" />
<line x1="1204.0" y1="484.4" x2="1348.7" y2="566.5" stroke="#050505" stroke-width="2.6" />
<path d="M1153.0,740.0 L1150.1,741.6 L1146.9,743.1 L1143.6,744.5 L1140.2,745.8 L1136.7,747.0 L1133.0,748.0 L1129.2,749.0 L1125.4,749.8 L1121.4,750.4 L1117.5,750.9 L1113.4,751.3 L1109.4,751.6 L1105.3,751.7 L1101.2,751.7 L1097.1,751.5 L1093.0,751.2 L1089.0,750.8 L1085.0,750.2 L1081.1,749.5 L1077.3,748.7 L1073.6,747.7 L1070.0,746.6 L1066.4,745.4 L1063.1,744.1 L1059.8,742.6 L1056.7,741.1 L1053.8,739.4 L1051.1,737.7 L1048.5,735.8 L1046.1,733.9 L1044.0,731.9 L1042.0,729.8 L1040.2,727.7 L1038.7,725.5 L1037.4,723.2 L1036.3,721.0 L1035.5,718.7 L1034.9,716.3 L1034.5,714.0 L1034.4,711.6 L1031.5,830.6 L1031.6,833.1 L1032.0,835.5 L1032.6,837.9 L1033.5,840.4 L1034.6,842.7 L1036.0,845.1 L1037.6,847.3 L1039.4,849.6 L1041.4,851.7 L1043.7,853.8 L1046.2,855.8 L1048.8,857.7 L1051.7,859.5 L1054.7,861.3 L1058.0,862.9 L1061.3,864.4 L1064.8,865.8 L1068.5,867.0 L1072.3,868.2 L1076.2,869.2 L1080.1,870.1 L1084.2,870.8 L1088.3,871.4 L1092.5,871.9 L1096.8,872.2 L1101.0,872.3 L1105.3,872.4 L1109.5,872.2 L1113.8,872.0 L1118.0,871.6 L1122.1,871.0 L1126.2,870.3 L1130.2,869.5 L1134.1,868.5 L1138.0,867.4 L1141.6,866.2 L1145.2,864.9 L1148.6,863.4 L1151.9,861.8 L1155.0,860.1 Z" fill="url(#gCyl)" stroke="none" stroke-width="0" stroke-linejoin="round" stroke-linecap="round" />
<path d="M1155.0,860.1 L1151.9,861.8 L1148.6,863.4 L1145.2,864.9 L1141.6,866.2 L1138.0,867.4 L1134.1,868.5 L1130.2,869.5 L1126.2,870.3 L1122.1,871.0 L1118.0,871.6 L1113.8,872.0 L1109.5,872.2 L1105.3,872.4 L1101.0,872.3 L1096.8,872.2 L1092.5,871.9 L1088.3,871.4 L1084.2,870.8 L1080.1,870.1 L1076.2,869.2 L1072.3,868.2 L1068.5,867.0 L1064.8,865.8 L1061.3,864.4 L1058.0,862.9 L1054.7,861.3 L1051.7,859.5 L1048.8,857.7 L1046.2,855.8 L1043.7,853.8 L1041.4,851.7 L1039.4,849.6 L1037.6,847.3 L1036.0,845.1 L1034.6,842.7 L1033.5,840.4 L1032.6,837.9 L1032.0,835.5 L1031.6,833.1 L1031.5,830.6 L1034.4,711.6" fill="none" stroke="#050505" stroke-width="2.3" stroke-linejoin="round" stroke-linecap="round"/>
<path d="M1151.6,740.6 L1322.4,642.2 L1324.8,764.8 L1153.6,860.8 Z" fill="#868686" stroke="none" stroke-width="0" stroke-linejoin="round" stroke-linecap="round" />
<path d="M1153.0,740.0 L1322.4,642.2 L1324.8,764.8 L1155.0,860.1" fill="none" stroke="#050505" stroke-width="2.2" stroke-linejoin="round" stroke-linecap="round"/>
<line x1="1153.0" y1="740.0" x2="1155.0" y2="860.1" stroke="#050505" stroke-width="1.5" />
<path d="M1175.6,684.4 L1345.5,586 C1340.5,602 1331,624 1322.4,641.5 L1153,740 Z" fill="url(#gSide)" stroke="#050505" stroke-width="2.2" stroke-linejoin="round"/>
<path d="M1005.3,657.6 L1006.7,660.6 L1008.5,663.5 L1010.5,666.3 L1012.7,669.1 L1015.3,671.9 L1018.0,674.5 L1021.0,677.1 L1024.2,679.5 L1027.7,681.9 L1031.3,684.1 L1035.2,686.3 L1039.2,688.3 L1043.4,690.2 L1047.8,692.0 L1052.4,693.6 L1057.1,695.1 L1061.9,696.4 L1066.8,697.6 L1071.8,698.7 L1077.0,699.5 L1082.1,700.3 L1087.4,700.9 L1092.7,701.3 L1098.0,701.5 L1103.4,701.6 L1108.7,701.5 L1114.0,701.3 L1119.3,700.9 L1124.6,700.4 L1129.8,699.6 L1134.9,698.8 L1140.0,697.7 L1144.9,696.6 L1149.7,695.2 L1154.4,693.8 L1159.0,692.2 L1163.4,690.4 L1167.7,688.5 L1171.7,686.5 L1175.6,684.4 Q1166.4,713 1153.0,740.0 L1150.4,741.4 L1147.6,742.8 L1144.7,744.1 L1141.7,745.3 L1138.6,746.4 L1135.4,747.4 L1132.1,748.3 L1128.7,749.1 L1125.2,749.8 L1121.7,750.4 L1118.2,750.9 L1114.6,751.2 L1111.0,751.5 L1107.3,751.7 L1103.7,751.7 L1100.0,751.7 L1096.4,751.5 L1092.8,751.2 L1089.2,750.8 L1085.6,750.3 L1082.1,749.7 L1078.7,749.0 L1075.3,748.2 L1072.0,747.2 L1068.8,746.2 L1065.7,745.1 L1062.7,743.9 L1059.8,742.6 L1057.1,741.2 L1054.5,739.8 L1052.0,738.2 L1049.6,736.6 L1047.4,734.9 L1045.4,733.2 L1043.5,731.4 L1041.7,729.5 L1040.2,727.6 L1038.8,725.7 L1037.6,723.7 L1036.6,721.6 Z" fill="url(#gTaper)" stroke="none"/>
<path d="M1153.0,740.0 L1150.4,741.4 L1147.6,742.8 L1144.7,744.1 L1141.7,745.3 L1138.6,746.4 L1135.4,747.4 L1132.1,748.3 L1128.7,749.1 L1125.2,749.8 L1121.7,750.4 L1118.2,750.9 L1114.6,751.2 L1111.0,751.5 L1107.3,751.7 L1103.7,751.7 L1100.0,751.7 L1096.4,751.5 L1092.8,751.2 L1089.2,750.8 L1085.6,750.3 L1082.1,749.7 L1078.7,749.0 L1075.3,748.2 L1072.0,747.2 L1068.8,746.2 L1065.7,745.1 L1062.7,743.9 L1059.8,742.6 L1057.1,741.2 L1054.5,739.8 L1052.0,738.2 L1049.6,736.6 L1047.4,734.9 L1045.4,733.2 L1043.5,731.4 L1041.7,729.5 L1040.2,727.6 L1038.8,725.7 L1037.6,723.7 L1036.6,721.6" fill="none" stroke="#050505" stroke-width="2.2" stroke-linejoin="round" stroke-linecap="round"/>
<path d="M1036.6,721.6 L1005.3,657.6" fill="none" stroke="#050505" stroke-width="2.2" stroke-linejoin="round" stroke-linecap="round"/>
<path d="M1175.6,684.4 Q1166.4,713 1153.0,740.0" fill="none" stroke="#050505" stroke-width="1.5"/>
<path d="M1175.6,666.2 L1171.2,668.6 L1166.7,670.8 L1161.8,672.9 L1156.8,674.8 L1151.6,676.5 L1146.3,678.0 L1140.8,679.4 L1135.1,680.5 L1129.4,681.5 L1123.5,682.3 L1117.6,682.9 L1111.7,683.2 L1105.7,683.4 L1099.7,683.4 L1093.7,683.1 L1087.8,682.7 L1081.9,682.0 L1076.1,681.2 L1070.4,680.2 L1064.8,678.9 L1059.3,677.5 L1054.0,675.9 L1048.9,674.1 L1043.9,672.2 L1039.2,670.1 L1034.7,667.8 L1030.4,665.4 L1026.4,662.8 L1022.6,660.1 L1019.1,657.3 L1016.0,654.4 L1013.1,651.4 L1010.5,648.2 L1008.3,645.0 L1006.4,641.7 L1004.8,638.4 L1003.6,635.0 L1002.7,631.6 L1002.2,628.2 L1002.0,624.7 L1002.0,642.9 L1002.2,646.4 L1002.7,649.8 L1003.6,653.2 L1004.8,656.6 L1006.4,659.9 L1008.3,663.2 L1010.5,666.4 L1013.1,669.6 L1016.0,672.6 L1019.1,675.5 L1022.6,678.3 L1026.4,681.0 L1030.4,683.6 L1034.7,686.0 L1039.2,688.3 L1043.9,690.4 L1048.9,692.3 L1054.0,694.1 L1059.3,695.7 L1064.8,697.1 L1070.4,698.4 L1076.1,699.4 L1081.9,700.2 L1087.8,700.9 L1093.7,701.3 L1099.7,701.6 L1105.7,701.6 L1111.7,701.4 L1117.6,701.1 L1123.5,700.5 L1129.4,699.7 L1135.1,698.7 L1140.8,697.6 L1146.3,696.2 L1151.6,694.7 L1156.8,693.0 L1161.8,691.1 L1166.7,689.0 L1171.2,686.8 L1175.6,684.4 Z" fill="url(#gRim)" stroke="none" stroke-width="0" stroke-linejoin="round" stroke-linecap="round" />
<path d="M1175.6,684.4 L1171.2,686.8 L1166.7,689.0 L1161.8,691.1 L1156.8,693.0 L1151.6,694.7 L1146.3,696.2 L1140.8,697.6 L1135.1,698.7 L1129.4,699.7 L1123.5,700.5 L1117.6,701.1 L1111.7,701.4 L1105.7,701.6 L1099.7,701.6 L1093.7,701.3 L1087.8,700.9 L1081.9,700.2 L1076.1,699.4 L1070.4,698.4 L1064.8,697.1 L1059.3,695.7 L1054.0,694.1 L1048.9,692.3 L1043.9,690.4 L1039.2,688.3 L1034.7,686.0 L1030.4,683.6 L1026.4,681.0 L1022.6,678.3 L1019.1,675.5 L1016.0,672.6 L1013.1,669.6 L1010.5,666.4 L1008.3,663.2 L1006.4,659.9 L1004.8,656.6 L1003.6,653.2 L1002.7,649.8 L1002.2,646.4 L1002.0,642.9" fill="none" stroke="#050505" stroke-width="2.4" stroke-linejoin="round" stroke-linecap="round"/>
<polygon points="1175.6,666.2 1348.7,566.8 1352.0,567.0 1352.0,588.0 1345.5,586.0 1175.6,684.4" fill="#848484" stroke="none" stroke-width="0" />
<line x1="1175.6" y1="684.4" x2="1345.5" y2="586.0" stroke="#050505" stroke-width="2.2" />
<polygon points="1175.6,662.6 1325.5,575.5 1325.5,558.0 1339.5,563.0 1347.4,566.6 1175.6,666.2" fill="#bdbdbd" stroke="none" stroke-width="0" />
<polygon points="1325.5,558.0 1339.5,563.0 1327.0,570.4" fill="#b0b0b0" stroke="none" stroke-width="0" />
<line x1="1327.0" y1="570.2" x2="1339.0" y2="563.2" stroke="#050505" stroke-width="1.3" />
<line x1="1175.6" y1="666.2" x2="1348.7" y2="566.8" stroke="#050505" stroke-width="1.4" />
<path d="M1175.6,644.8 L1171.2,647.2 L1166.7,649.4 L1161.8,651.5 L1156.8,653.4 L1151.6,655.1 L1146.3,656.6 L1140.8,658.0 L1135.1,659.1 L1129.4,660.1 L1123.5,660.9 L1117.6,661.5 L1111.7,661.8 L1105.7,662.0 L1099.7,662.0 L1093.7,661.7 L1087.8,661.3 L1081.9,660.6 L1076.1,659.8 L1070.4,658.8 L1064.8,657.5 L1059.3,656.1 L1054.0,654.5 L1048.9,652.7 L1043.9,650.8 L1039.2,648.7 L1034.7,646.4 L1030.4,644.0 L1026.4,641.4 L1022.6,638.7 L1019.1,635.9 L1016.0,633.0 L1013.1,630.0 L1010.5,626.8 L1008.3,623.6 L1006.4,620.3 L1004.8,617.0 L1003.6,613.6 L1002.7,610.2 L1002.2,606.8 L1002.0,603.3 L1002.0,624.7 L1002.2,628.2 L1002.7,631.6 L1003.6,635.0 L1004.8,638.4 L1006.4,641.7 L1008.3,645.0 L1010.5,648.2 L1013.1,651.4 L1016.0,654.4 L1019.1,657.3 L1022.6,660.1 L1026.4,662.8 L1030.4,665.4 L1034.7,667.8 L1039.2,670.1 L1043.9,672.2 L1048.9,674.1 L1054.0,675.9 L1059.3,677.5 L1064.8,678.9 L1070.4,680.2 L1076.1,681.2 L1081.9,682.0 L1087.8,682.7 L1093.7,683.1 L1099.7,683.4 L1105.7,683.4 L1111.7,683.2 L1117.6,682.9 L1123.5,682.3 L1129.4,681.5 L1135.1,680.5 L1140.8,679.4 L1146.3,678.0 L1151.6,676.5 L1156.8,674.8 L1161.8,672.9 L1166.7,670.8 L1171.2,668.6 L1175.6,666.2 Z" fill="#a2a2a2" stroke="none" stroke-width="0" stroke-linejoin="round" stroke-linecap="round" />
<path d="M1175.6,666.2 L1171.2,668.6 L1166.7,670.8 L1161.8,672.9 L1156.8,674.8 L1151.6,676.5 L1146.3,678.0 L1140.8,679.4 L1135.1,680.5 L1129.4,681.5 L1123.5,682.3 L1117.6,682.9 L1111.7,683.2 L1105.7,683.4 L1099.7,683.4 L1093.7,683.1 L1087.8,682.7 L1081.9,682.0 L1076.1,681.2 L1070.4,680.2 L1064.8,678.9 L1059.3,677.5 L1054.0,675.9 L1048.9,674.1 L1043.9,672.2 L1039.2,670.1 L1034.7,667.8 L1030.4,665.4 L1026.4,662.8 L1022.6,660.1 L1019.1,657.3 L1016.0,654.4 L1013.1,651.4 L1010.5,648.2 L1008.3,645.0 L1006.4,641.7 L1004.8,638.4 L1003.6,635.0 L1002.7,631.6 L1002.2,628.2 L1002.0,624.7" fill="none" stroke="#050505" stroke-width="1.8" stroke-linejoin="round" stroke-linecap="round"/>
<path d="M1175.6,644.8 L1171.2,647.2 L1166.7,649.4 L1161.8,651.5 L1156.8,653.4 L1151.6,655.1 L1146.3,656.6 L1140.8,658.0 L1135.1,659.1 L1129.4,660.1 L1123.5,660.9 L1117.6,661.5 L1111.7,661.8 L1105.7,662.0 L1099.7,662.0 L1093.7,661.7 L1087.8,661.3 L1081.9,660.6 L1076.1,659.8 L1070.4,658.8 L1064.8,657.5 L1059.3,656.1 L1054.0,654.5 L1048.9,652.7 L1043.9,650.8 L1039.2,648.7 L1034.7,646.4 L1030.4,644.0 L1026.4,641.4 L1022.6,638.7 L1019.1,635.9 L1016.0,633.0 L1013.1,630.0 L1010.5,626.8 L1008.3,623.6 L1006.4,620.3 L1004.8,617.0 L1003.6,613.6 L1002.7,610.2 L1002.2,606.8 L1002.0,603.3 L1002.0,621.1 L1002.2,624.6 L1002.7,628.0 L1003.6,631.4 L1004.8,634.8 L1006.4,638.1 L1008.3,641.4 L1010.5,644.6 L1013.1,647.8 L1016.0,650.8 L1019.1,653.7 L1022.6,656.5 L1026.4,659.2 L1030.4,661.8 L1034.7,664.2 L1039.2,666.5 L1043.9,668.6 L1048.9,670.5 L1054.0,672.3 L1059.3,673.9 L1064.8,675.3 L1070.4,676.6 L1076.1,677.6 L1081.9,678.4 L1087.8,679.1 L1093.7,679.5 L1099.7,679.8 L1105.7,679.8 L1111.7,679.6 L1117.6,679.3 L1123.5,678.7 L1129.4,677.9 L1135.1,676.9 L1140.8,675.8 L1146.3,674.4 L1151.6,672.9 L1156.8,671.2 L1161.8,669.3 L1166.7,667.2 L1171.2,665.0 L1175.6,662.6 Z" fill="url(#gLidE)" stroke="none" stroke-width="0" stroke-linejoin="round" stroke-linecap="round" />
<path d="M1175.6,662.6 L1171.2,665.0 L1166.7,667.2 L1161.8,669.3 L1156.8,671.2 L1151.6,672.9 L1146.3,674.4 L1140.8,675.8 L1135.1,676.9 L1129.4,677.9 L1123.5,678.7 L1117.6,679.3 L1111.7,679.6 L1105.7,679.8 L1099.7,679.8 L1093.7,679.5 L1087.8,679.1 L1081.9,678.4 L1076.1,677.6 L1070.4,676.6 L1064.8,675.3 L1059.3,673.9 L1054.0,672.3 L1048.9,670.5 L1043.9,668.6 L1039.2,666.5 L1034.7,664.2 L1030.4,661.8 L1026.4,659.2 L1022.6,656.5 L1019.1,653.7 L1016.0,650.8 L1013.1,647.8 L1010.5,644.6 L1008.3,641.4 L1006.4,638.1 L1004.8,634.8 L1003.6,631.4 L1002.7,628.0 L1002.2,624.6 L1002.0,621.1" fill="none" stroke="#050505" stroke-width="2.3" stroke-linejoin="round" stroke-linecap="round"/>
<path d="M1002.0,603.3 L1002.0,642.9" fill="none" stroke="#050505" stroke-width="2.3" stroke-linejoin="round" stroke-linecap="round"/>
<path d="M1175.6,644.8 L1324.5,558.0 L1325.5,558.0 L1325.5,575.8 L1175.6,662.6 Z" fill="#8a8a8a" stroke="none" stroke-width="0" stroke-linejoin="round" stroke-linecap="round" />
<path d="M1175.6,662.6 L1325.5,575.8 L1325.5,558.0" fill="none" stroke="#050505" stroke-width="2.3" stroke-linejoin="round" stroke-linecap="round"/>
<line x1="1175.6" y1="644.8" x2="1175.6" y2="684.4" stroke="#050505" stroke-width="1.5" />
<path d="M1175.6,644.8 L1169.7,647.9 L1163.5,650.8 L1156.8,653.4 L1149.9,655.6 L1142.6,657.5 L1135.1,659.1 L1127.4,660.4 L1119.6,661.3 L1111.7,661.8 L1103.7,662.0 L1095.7,661.8 L1087.8,661.3 L1080.0,660.4 L1072.3,659.1 L1064.8,657.5 L1057.5,655.6 L1050.6,653.4 L1043.9,650.8 L1037.7,647.9 L1031.8,644.8 L1026.4,641.4 L1021.4,637.8 L1017.0,634.0 L1013.1,630.0 L1009.8,625.8 L1007.0,621.4 L1004.8,617.0 L1003.3,612.5 L1002.3,607.9 L1002.0,603.3 L1002.3,598.7 L1003.3,594.1 L1004.8,589.6 L1007.0,585.2 L1009.8,580.8 L1013.1,576.6 L1017.0,572.6 L1021.4,568.8 L1026.4,565.2 L1031.8,561.8 L1181.6,474.6 L1324.6,557.8 Z" fill="#a4a4a4" stroke="#050505" stroke-width="2.5" stroke-linejoin="round" stroke-linecap="round" />
</g>
<defs><clipPath id="jagclip"><polygon points="1100.0,900.0 1460.0,900.0 1460.0,1132.1 1431.6,1132.1 1422.3,1134.4 1413.7,1172.9 1375.2,1175.2 1355.9,1211.0 1320.8,1217.1 1286.8,1201.3 1251.7,1218.7 1218.8,1209.2 1192.7,1185.4 1160.3,1172.9 1155.3,1133.3 1127.0,1128.7 1100.0,1128.7"/></clipPath></defs>
<g clip-path="url(#jagclip)"><use href="#tankD" transform="translate(-640.62,513.08) scale(1.47)"/></g>
<path d="M1127.0,1128.7 L1155.3,1133.3 L1160.3,1172.9 L1192.7,1185.4 L1218.8,1209.2 L1251.7,1218.7 L1286.8,1201.3 L1320.8,1217.1 L1355.9,1211.0 L1375.2,1175.2 L1413.7,1172.9 L1422.3,1134.4 L1431.6,1132.1" fill="none" stroke="#050505" stroke-width="3.4" stroke-linejoin="miter"/>
<line x1="1320.0" y1="988.7" x2="1393.3" y2="948.7" stroke="#111" stroke-width="1.1" />
<line x1="1293.3" y1="1065.3" x2="1394.7" y2="1006.7" stroke="#111" stroke-width="1.1" />
<line x1="1388.7" y1="953.0" x2="1389.3" y2="1007.0" stroke="#111" stroke-width="1.1" />
<polygon points="1388.7,951.6 1390.7,961.1 1386.7,961.1" fill="#111" stroke="none" stroke-width="0" />
<polygon points="1389.3,1008.4 1387.3,998.9 1391.3,998.9" fill="#111" stroke="none" stroke-width="0" />
<text x="0" y="0" transform="translate(1392.8,958.6) rotate(91)" font-family='"Liberation Sans", sans-serif' font-size="24.51" fill="#000" text-anchor="start" textLength="36.4" lengthAdjust="spacingAndGlyphs" stroke="#000" stroke-width="0.3">100</text>
<line x1="1428.7" y1="1050.0" x2="1463.3" y2="1030.0" stroke="#111" stroke-width="1.1" />
<line x1="1432.0" y1="1083.3" x2="1468.0" y2="1062.7" stroke="#111" stroke-width="1.1" />
<line x1="1454.8" y1="1036.0" x2="1458.0" y2="1066.6" stroke="#111" stroke-width="1.1" />
<polygon points="1454.6,1034.8 1457.0,1041.6 1453.6,1041.9" fill="#111" stroke="none" stroke-width="0" />
<polygon points="1458.1,1067.8 1455.7,1061.0 1459.1,1060.7" fill="#111" stroke="none" stroke-width="0" />
<text x="0" y="0" transform="translate(1458.2,1040.4) rotate(80)" font-family='"Liberation Sans", sans-serif' font-size="12.85" fill="#000" text-anchor="start" textLength="17.0" lengthAdjust="spacingAndGlyphs" >40</text>
<line x1="1168.4" y1="932.0" x2="1222.0" y2="964.0" stroke="#111" stroke-width="1.1" />
<line x1="1196.4" y1="917.6" x2="1222.0" y2="933.6" stroke="#111" stroke-width="1.1" />
<line x1="1178.8" y1="937.6" x2="1202.8" y2="924.0" stroke="#111" stroke-width="1.1" />
<polygon points="1178.4,937.9 1182.8,933.6 1184.4,936.3" fill="#111" stroke="none" stroke-width="0" />
<polygon points="1203.2,923.8 1198.8,928.1 1197.2,925.4" fill="#111" stroke="none" stroke-width="0" />
<text x="0" y="0" transform="translate(1179.6,932.2) rotate(-30)" font-family='"Liberation Sans", sans-serif' font-size="11.36" fill="#000" text-anchor="start" textLength="16.5" lengthAdjust="spacingAndGlyphs" font-style="italic">50</text>
<line x1="1248.4" y1="917.6" x2="1222.0" y2="933.6" stroke="#111" stroke-width="1.1" />
<line x1="1278.8" y1="933.6" x2="1225.2" y2="964.0" stroke="#111" stroke-width="1.1" />
<line x1="1241.2" y1="923.2" x2="1270.0" y2="938.4" stroke="#111" stroke-width="1.1" />
<polygon points="1240.6,922.9 1246.6,924.3 1245.1,927.1" fill="#111" stroke="none" stroke-width="0" />
<polygon points="1270.6,938.7 1264.6,937.3 1266.1,934.5" fill="#111" stroke="none" stroke-width="0" />
<text x="0" y="0" transform="translate(1251.4,923.4) rotate(29)" font-family='"Liberation Sans", sans-serif' font-size="11.36" fill="#000" text-anchor="start" textLength="17.0" lengthAdjust="spacingAndGlyphs" font-style="italic">55</text>
<line x1="1122.8" y1="951.2" x2="1236.4" y2="966.4" stroke="#111" stroke-width="1.1" />
<polygon points="1210.6,963.0 1204.4,963.8 1204.9,960.6" fill="#111" stroke="none" stroke-width="0" />
<polygon points="1236.8,966.5 1243.0,965.7 1242.5,968.9" fill="#111" stroke="none" stroke-width="0" />
<text x="0" y="0" transform="translate(1130.6,949.0) rotate(8)" font-family='"Liberation Sans", sans-serif' font-size="12.85" fill="#000" text-anchor="start" textLength="31.0" lengthAdjust="spacingAndGlyphs" font-style="italic">Ø35</text>
</svg>
</body>
</html>
